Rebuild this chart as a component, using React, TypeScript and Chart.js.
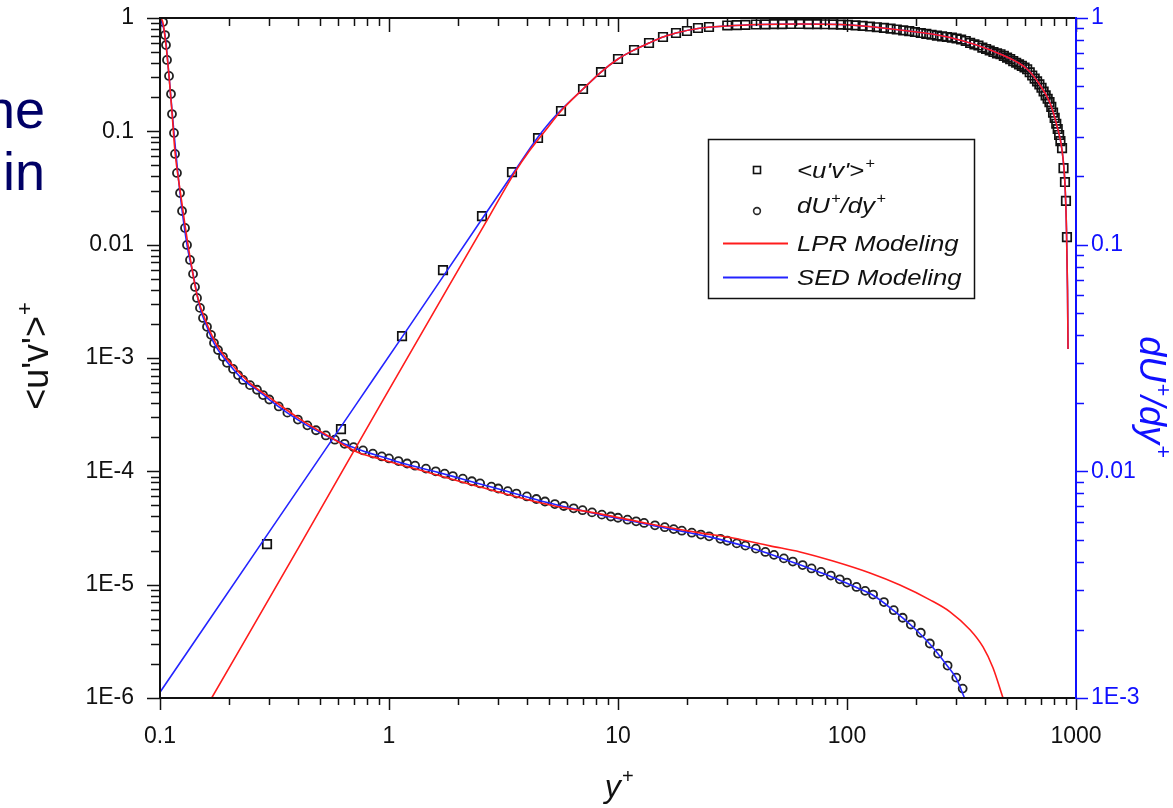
import React, { useEffect, useRef } from 'react';
import { Chart, registerables } from 'chart.js';

Chart.register(...registerables);

const FONT = '"Liberation Sans", Arial, Helvetica, sans-serif';
const RED = 'rgb(255,28,28)';
const BLUE = 'rgb(36,36,255)';
const AXIS_BLUE = '#1010ff';

// ---------------- axis ranges & tick labels ----------------
const X_MIN = 0.1;
const X_MAX = 1000;
const Y_MIN = 1e-6;
const Y_MAX = 1;
const Y2_MIN = 1e-3;
const Y2_MAX = 1;
const xTickLabels = ['0.1', '1', '10', '100', '1000'];
const yTickLabels = ['1E-6', '1E-5', '1E-4', '1E-3', '0.01', '0.1', '1'];
const y2TickLabels = ['1E-3', '0.01', '0.1', '1'];

// ---------------- <u'v'>+ DNS (squares, left axis) ----------------
const uvDnsYplus = [
  0.2933, 0.617, 1.14, 1.721, 2.547, 3.444, 4.475, 5.638, 7.035, 8.43, 10.0, 11.75, 13.66, 15.72, 17.92,
  20.01, 22.35, 24.97, 30, 33, 36, 40, 44, 48, 52, 57, 62, 68, 74, 80, 87, 94, 101, 109, 117, 126, 135,
  145, 155, 165, 176, 187, 198, 210, 222, 234, 247, 260, 273, 287, 301, 315, 330, 345, 360, 375, 390, 405,
  420, 436, 452, 468, 484, 500, 516, 532, 548, 564, 580, 596, 612, 628, 644, 660, 676, 692, 707, 722, 737,
  752, 766, 780, 794, 807, 820, 832, 844, 855, 869, 882, 895, 904, 913,
];
const uvDnsValue = [
  2.28e-5, 2.36e-4, 1.56e-3, 5.97e-3, 0.01788, 0.0437, 0.0873, 0.1511, 0.2362, 0.3337, 0.4346, 0.5219,
  0.6017, 0.6797, 0.7374, 0.768, 0.816, 0.833, 0.859, 0.866, 0.871, 0.876, 0.88, 0.882, 0.884, 0.885,
  0.885, 0.884, 0.882, 0.881, 0.878, 0.873, 0.869, 0.86, 0.852, 0.841, 0.829, 0.818, 0.806, 0.792, 0.777,
  0.765, 0.752, 0.737, 0.724, 0.712, 0.699, 0.689, 0.68, 0.67, 0.659, 0.646, 0.627, 0.604, 0.586, 0.572,
  0.548, 0.533, 0.517, 0.501, 0.488, 0.479, 0.463, 0.447, 0.434, 0.417, 0.403, 0.39, 0.378, 0.366, 0.353,
  0.332, 0.311, 0.292, 0.276, 0.26, 0.2424, 0.2245, 0.2078, 0.1939, 0.181, 0.1642, 0.1465, 0.1313, 0.1167,
  0.1048, 0.0928, 0.0821, 0.0712, 0.0474, 0.0357, 0.0243, 0.01167,
];

// ---------------- dU+/dy+ DNS (circles, right axis) ----------------
const dudyDnsYplus = [
  0.1031, 0.1052, 0.1062, 0.1073, 0.1095, 0.1117, 0.1128, 0.1151, 0.1163, 0.1186, 0.1223, 0.1248, 0.1286,
  0.1312, 0.1352, 0.1394, 0.1422, 0.1451, 0.1495, 0.1541, 0.1604, 0.167, 0.1721, 0.1792, 0.1884, 0.1961,
  0.2084, 0.2191, 0.2304, 0.2472, 0.2652, 0.2818, 0.3, 0.33, 0.36, 0.4, 0.44, 0.48, 0.53, 0.58, 0.64, 0.7,
  0.77, 0.85, 0.93, 1.0, 1.1, 1.2, 1.3, 1.45, 1.6, 1.75, 1.9, 2.1, 2.3, 2.5, 2.8, 3.0, 3.3, 3.6, 4.0, 4.4,
  4.8, 5.3, 5.8, 6.4, 7.0, 7.7, 8.5, 9.3, 10, 11, 12, 13, 14.5, 16, 17.5, 19, 21, 23, 25, 28, 30, 33, 36,
  40, 44, 48, 53, 58, 64, 70, 77, 85, 93, 100, 110, 120, 130, 145, 160, 175, 190, 210, 230, 250, 275, 300,
  320,
];
const dudyDnsValue = [
  0.96, 0.841, 0.76, 0.653, 0.555, 0.462, 0.377, 0.311, 0.2513, 0.2072, 0.169, 0.1408, 0.1185, 0.0997,
  0.0856, 0.0743, 0.0651, 0.0582, 0.0526, 0.0475, 0.0434, 0.04, 0.0368, 0.0343, 0.032, 0.0301, 0.0283,
  0.0266, 0.0253, 0.024, 0.0229, 0.0217, 0.02075, 0.01933, 0.01815, 0.01692, 0.01595, 0.01518, 0.0144,
  0.01379, 0.01323, 0.01279, 0.01237, 0.01197, 0.01163, 0.0114, 0.0111, 0.01083, 0.01059, 0.01028, 0.01,
  0.00976, 0.00953, 0.00928, 0.00904, 0.00884, 0.00856, 0.0084, 0.00818, 0.00798, 0.00775, 0.00755,
  0.00736, 0.00717, 0.00703, 0.00687, 0.00674, 0.00659, 0.00644, 0.00632, 0.00624, 0.00612, 0.00602,
  0.00592, 0.00578, 0.00567, 0.00556, 0.00547, 0.00536, 0.00526, 0.00517, 0.00504, 0.00494, 0.00481,
  0.0047, 0.00456, 0.00441, 0.00428, 0.00413, 0.004, 0.00386, 0.00373, 0.0036, 0.00347, 0.00334, 0.00323,
  0.00309, 0.00297, 0.00286, 0.00265, 0.00244, 0.00226, 0.00211, 0.00194, 0.00174, 0.00157, 0.00139,
  0.00123, 0.0011,
];

// ---------------- LPR modeling (red) ----------------
const lprUvYplus = [
  0.1681, 0.4087, 0.9415, 1.846, 2.761, 3.55, 4.128, 4.799, 5.638, 7.035, 8.43, 10.0, 11.75, 13.66, 15.72,
  17.92, 22.35, 29.9, 41.7, 62.36, 103.1, 170.3, 281.7, 465.7, 611.1, 696.3, 770.0, 826.0, 868.8, 895.4,
  908.9, 918.2, 923.0,
];
const lprUvValue = [
  1.0e-6, 2.232e-5, 4.25e-4, 4.49e-3, 0.01826, 0.0437, 0.0684, 0.1006, 0.1511, 0.2362, 0.3337, 0.4346,
  0.5219, 0.6017, 0.6797, 0.7374, 0.808, 0.85, 0.876, 0.885, 0.868, 0.784, 0.673, 0.481, 0.355, 0.2562,
  0.1777, 0.1113, 0.0684, 0.0336, 0.01345, 0.003976, 0.0012,
];
const lprDudyYplus = [
  0.101, 0.1031, 0.1062, 0.1095, 0.1128, 0.1163, 0.1223, 0.1286, 0.1352, 0.1451, 0.1604, 0.1792, 0.2084,
  0.2472, 0.3022, 0.4087, 0.5526, 0.725, 0.9135, 1.51, 2.497, 5.048, 8.346, 13.8, 22.81, 31.78, 46.11,
  62.36, 86.88, 126.0, 170.3, 230.3, 281.7, 344.5, 392.6, 434.0, 480.0,
];
const lprDudyValue = [
  1.0, 0.95, 0.76, 0.555, 0.385, 0.2564, 0.1743, 0.1221, 0.0883, 0.06, 0.0447, 0.0354, 0.0292, 0.0245,
  0.0211, 0.017, 0.01418, 0.01218, 0.01134, 0.00984, 0.00853, 0.00711, 0.00649, 0.00586, 0.00535, 0.00508,
  0.00469, 0.00441, 0.00402, 0.00356, 0.00315, 0.00271, 0.0024, 0.002, 0.00168, 0.00136, 0.001,
];

// ---------------- SED modeling (blue) ----------------
const sedUvYplus = [
  0.1, 0.2933, 0.725, 1.14, 2.547, 3.444, 4.475, 5.048, 5.638, 7.035, 8.43, 10.0, 11.75, 13.66, 15.72,
  17.92, 22.35, 29.9, 41.7, 62.36, 103.1, 170.3, 281.7, 465.7, 611.1, 696.3, 770.0, 826.0, 868.8, 895.4,
  908.9, 918.2, 923.0,
];
const sedUvValue = [
  1.125e-6, 2.735e-5, 4.0e-4, 1.529e-3, 0.01682, 0.04113, 0.0891, 0.1208, 0.1542, 0.2362, 0.3337, 0.4346,
  0.5219, 0.6017, 0.6797, 0.7374, 0.808, 0.85, 0.876, 0.885, 0.868, 0.784, 0.673, 0.481, 0.355, 0.2562,
  0.1777, 0.1113, 0.0684, 0.0336, 0.01345, 0.003976, 0.0012,
];
const sedDudyYplus = [
  0.1, 0.1052, 0.1095, 0.1151, 0.1223, 0.1312, 0.1394, 0.1495, 0.1604, 0.1721, 0.1884, 0.2084, 0.2304,
  0.2652, 0.3, 0.36, 0.44, 0.53, 0.64, 0.77, 0.93, 1.1, 1.3, 1.6, 1.9, 2.3, 2.8, 3.3, 4.0, 4.8, 5.8, 7.0,
  8.5, 10, 12, 14.5, 17.5, 21, 25, 30, 36, 44, 53, 64, 77, 93, 110, 130, 160, 190, 230, 275, 300, 326,
];
const sedDudyValue = [
  1.0, 0.841, 0.555, 0.311, 0.169, 0.0997, 0.0743, 0.0526, 0.0434, 0.0368, 0.032, 0.0283, 0.0253, 0.0229,
  0.0207, 0.0181, 0.0159, 0.0144, 0.0132, 0.0123, 0.0116, 0.011, 0.0105, 0.00995, 0.0095, 0.009, 0.00852,
  0.00814, 0.00771, 0.00732, 0.00699, 0.0067, 0.0064, 0.0062, 0.00598, 0.00574, 0.00553, 0.00533, 0.00514,
  0.00491, 0.00467, 0.00438, 0.0041, 0.00383, 0.00357, 0.00331, 0.00307, 0.00284, 0.00243, 0.0021, 0.00173,
  0.00138, 0.00122, 0.001,
];

// ---------------- helpers ----------------
const zip = (xs: number[], ys: number[]) => xs.map((x, i) => ({ x, y: ys[i] }));

const decadeLabel = (labels: string[], minExp: number) => (value: number | string) => {
  const v = Number(value);
  const e = Math.log10(v);
  const r = Math.round(e);
  if (Math.abs(e - r) > 1e-6) return '';
  return labels[r - minExp] ?? '';
};

function logTicks(min: number, max: number) {
  const out: { v: number; major: boolean }[] = [];
  const e0 = Math.floor(Math.log10(min) + 1e-9);
  const e1 = Math.ceil(Math.log10(max) - 1e-9);
  for (let e = e0; e <= e1; e++) {
    for (let k = 1; k <= 9; k++) {
      const v = k * Math.pow(10, e);
      if (v >= min * 0.9999 && v <= max * 1.0001) out.push({ v, major: k === 1 });
    }
  }
  return out;
}

type Seg = { t: string; sup?: boolean };

function drawRich(
  ctx: CanvasRenderingContext2D,
  segs: Seg[],
  x: number,
  y: number,
  size: number,
  italic: boolean,
  align: 'left' | 'center',
  sx = 1
) {
  const supSize = Math.round(size * 0.62);
  const fontFor = (s: Seg) => `${italic ? 'italic ' : ''}${s.sup ? supSize : size}px ${FONT}`;
  let total = 0;
  for (const s of segs) {
    ctx.font = fontFor(s);
    total += ctx.measureText(s.t).width + (s.sup ? 1 : 0);
  }
  ctx.save();
  ctx.translate(x, y);
  ctx.scale(sx, 1);
  let cx = align === 'center' ? -total / 2 : 0;
  ctx.textAlign = 'left';
  ctx.textBaseline = 'alphabetic';
  for (const s of segs) {
    ctx.font = fontFor(s);
    ctx.fillText(s.t, cx + (s.sup ? 1 : 0), s.sup ? -size * 0.45 : 0);
    cx += ctx.measureText(s.t).width + (s.sup ? 1 : 0);
  }
  ctx.restore();
}

const framePlugin = {
  id: 'frame',
  afterDatasetsDraw(chart: any) {
    const { ctx, chartArea: a, scales } = chart;
    ctx.save();
    ctx.strokeStyle = '#111';
    ctx.lineWidth = 2;
    ctx.beginPath();
    ctx.moveTo(a.left, a.top);
    ctx.lineTo(a.right, a.top);
    ctx.moveTo(a.left, a.top - 1);
    ctx.lineTo(a.left, a.bottom + 1);
    ctx.moveTo(a.left, a.bottom);
    ctx.lineTo(a.right, a.bottom);
    ctx.stroke();

    ctx.lineWidth = 1.5;
    ctx.beginPath();
    for (const t of logTicks(X_MIN, X_MAX)) {
      const px = Math.round(scales.x.getPixelForValue(t.v)) + 0.5;
      ctx.moveTo(px, a.bottom);
      ctx.lineTo(px, a.bottom + (t.major ? 12 : 7));
      ctx.moveTo(px, a.top);
      ctx.lineTo(px, a.top + (t.major ? 14 : 8));
    }
    for (const t of logTicks(Y_MIN, Y_MAX)) {
      const py = Math.round(scales.y.getPixelForValue(t.v)) + 0.5;
      ctx.moveTo(a.left, py);
      ctx.lineTo(a.left - (t.major ? 13 : 9), py);
    }
    ctx.stroke();

    ctx.strokeStyle = AXIS_BLUE;
    ctx.lineWidth = 2;
    ctx.beginPath();
    ctx.moveTo(a.right, a.top - 1);
    ctx.lineTo(a.right, a.bottom + 1);
    ctx.stroke();
    ctx.lineWidth = 1.5;
    ctx.beginPath();
    for (const t of logTicks(Y2_MIN, Y2_MAX)) {
      const py = Math.round(scales.y2.getPixelForValue(t.v)) + 0.5;
      ctx.moveTo(a.right, py);
      ctx.lineTo(a.right + (t.major ? 12 : 8), py);
    }
    ctx.stroke();
    ctx.restore();
  },
  afterDraw(chart: any) {
    const { ctx } = chart;
    ctx.save();
    // ---- axis titles ----
    ctx.fillStyle = '#111';
    ctx.save();
    ctx.translate(48, 356);
    ctx.rotate(-Math.PI / 2);
    drawRich(ctx, [{ t: "<u'v'>" }, { t: '+', sup: true }], 0, 0, 36, false, 'center');
    ctx.restore();

    ctx.save();
    ctx.fillStyle = AXIS_BLUE;
    ctx.translate(1140, 397);
    ctx.rotate(Math.PI / 2);
    drawRich(ctx, [{ t: 'dU' }, { t: '+', sup: true }, { t: '/dy' }, { t: '+', sup: true }], 0, 0, 36, true, 'center');
    ctx.restore();

    drawRich(ctx, [{ t: 'y' }, { t: '+', sup: true }], 619, 797, 32, true, 'center');

    // ---- legend ----
    ctx.strokeStyle = '#111';
    ctx.lineWidth = 1.5;
    ctx.strokeRect(708.5, 139.5, 266, 159);

    const textX = 797;
    const fs = 22;
    const sx = 1.17;
    ctx.strokeStyle = '#111';
    ctx.lineWidth = 1.6;
    ctx.strokeRect(753.5, 166.5, 7, 7);
    ctx.fillStyle = '#111';
    drawRich(ctx, [{ t: "<u'v'>" }, { t: '+', sup: true }], textX, 178, fs, true, 'left', sx);

    ctx.strokeStyle = '#2a2a2a';
    ctx.beginPath();
    ctx.arc(757, 211, 3.4, 0, Math.PI * 2);
    ctx.stroke();
    drawRich(ctx, [{ t: 'dU' }, { t: '+', sup: true }, { t: '/dy' }, { t: '+', sup: true }], textX, 213, fs, true, 'left', sx);

    ctx.strokeStyle = RED;
    ctx.lineWidth = 1.8;
    ctx.beginPath();
    ctx.moveTo(723, 243.5);
    ctx.lineTo(788, 243.5);
    ctx.stroke();
    drawRich(ctx, [{ t: 'LPR Modeling' }], textX, 251, fs, true, 'left', sx);

    ctx.strokeStyle = BLUE;
    ctx.beginPath();
    ctx.moveTo(723, 277.5);
    ctx.lineTo(788, 277.5);
    ctx.stroke();
    drawRich(ctx, [{ t: 'SED Modeling' }], textX, 285, fs, true, 'left', sx);
    ctx.restore();
  },
};

export default function App() {
  const canvasRef = useRef<HTMLCanvasElement | null>(null);

  useEffect(() => {
    const canvas = canvasRef.current;
    if (!canvas) return;
    const lineBase = {
      showLine: true,
      pointRadius: 0,
      borderWidth: 1.6,
      fill: false,
      cubicInterpolationMode: 'monotone' as const,
    };
    const tickFont = { family: FONT, size: 23 };
    const chart = new Chart(canvas, {
      type: 'scatter',
      data: {
        datasets: [
          { ...lineBase, label: 'LPR Modeling', data: zip(lprUvYplus, lprUvValue), yAxisID: 'y', borderColor: RED, order: 0 },
          { ...lineBase, label: 'LPR Modeling dU', data: zip(lprDudyYplus, lprDudyValue), yAxisID: 'y2', borderColor: RED, order: 0 },
          { ...lineBase, label: 'SED Modeling', data: zip(sedUvYplus, sedUvValue), yAxisID: 'y', borderColor: BLUE, order: 1 },
          { ...lineBase, label: 'SED Modeling dU', data: zip(sedDudyYplus, sedDudyValue), yAxisID: 'y2', borderColor: BLUE, order: 1 },
          {
            label: "<u'v'>+",
            data: zip(uvDnsYplus, uvDnsValue),
            yAxisID: 'y',
            showLine: false,
            pointStyle: 'rect',
            pointRadius: 6,
            borderWidth: 1.7,
            borderColor: '#111',
            backgroundColor: 'rgba(0,0,0,0)',
            order: 2,
          },
          {
            label: 'dU+/dy+',
            data: zip(dudyDnsYplus, dudyDnsValue),
            yAxisID: 'y2',
            showLine: false,
            pointStyle: 'circle',
            pointRadius: 4,
            borderWidth: 1.8,
            borderColor: '#222',
            backgroundColor: 'rgba(0,0,0,0)',
            order: 2,
          },
        ],
      },
      options: {
        responsive: false,
        animation: false,
        devicePixelRatio: 1,
        events: [],
        layout: { padding: { top: 18, left: 0, right: 0, bottom: 0 } },
        plugins: { legend: { display: false }, tooltip: { enabled: false } },
        scales: {
          x: {
            type: 'logarithmic',
            position: 'bottom',
            min: X_MIN,
            max: X_MAX,
            grid: { display: false, drawTicks: false },
            border: { display: false },
            ticks: {
              autoSkip: false,
              maxRotation: 0,
              padding: 25,
              color: '#111',
              font: tickFont,
              callback: decadeLabel(xTickLabels, -1),
            },
            afterFit: (s: any) => {
              s.height = 110;
              s.paddingLeft = 0;
              s.paddingRight = 0;
            },
          },
          y: {
            type: 'logarithmic',
            position: 'left',
            min: Y_MIN,
            max: Y_MAX,
            grid: { display: false, drawTicks: false },
            border: { display: false },
            ticks: {
              autoSkip: false,
              padding: 26,
              color: '#111',
              font: tickFont,
              callback: decadeLabel(yTickLabels, -6),
            },
            afterFit: (s: any) => {
              s.width = 160;
              s.paddingTop = 0;
              s.paddingBottom = 0;
            },
          },
          y2: {
            type: 'logarithmic',
            position: 'right',
            min: Y2_MIN,
            max: Y2_MAX,
            grid: { display: false, drawTicks: false },
            border: { display: false },
            ticks: {
              autoSkip: false,
              padding: 15,
              color: AXIS_BLUE,
              font: tickFont,
              callback: decadeLabel(y2TickLabels, -3),
            },
            afterFit: (s: any) => {
              s.width = 97;
              s.paddingTop = 0;
              s.paddingBottom = 0;
            },
          },
        },
      },
      plugins: [framePlugin],
    });
    return () => chart.destroy();
  }, []);

  const slideText: React.CSSProperties = {
    position: 'absolute',
    left: 0,
    width: 45,
    textAlign: 'right',
    whiteSpace: 'nowrap',
    direction: 'rtl',
    fontFamily: FONT,
    fontSize: 54,
    lineHeight: '54px',
    color: '#000066',
  };

  return (
    <div
      style={{
        position: 'fixed',
        left: 0,
        top: 0,
        width: 1173,
        height: 808,
        background: '#ffffff',
        overflow: 'hidden',
      }}
    >
      <canvas ref={canvasRef} width={1173} height={808} style={{ position: 'absolute', left: 0, top: 0 }} />
      <div style={{ ...slideText, top: 82 }}>ne</div>
      <div style={{ ...slideText, top: 144 }}>in</div>
    </div>
  );
}
